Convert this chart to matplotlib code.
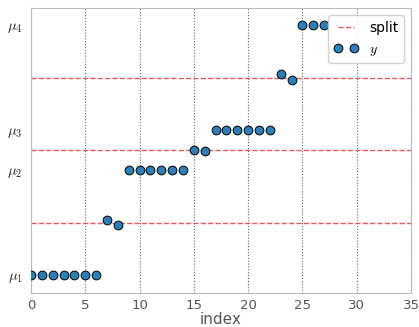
import numpy as np
import matplotlib
matplotlib.use('Agg')
import matplotlib.pyplot as plt

plt.rcParams['mathtext.fontset'] = 'cm'

# levels and the observed sequence
mu = [0.0, 2.1, 2.9, 5.0]
mu_labels = [r'$\mu_1$', r'$\mu_2$', r'$\mu_3$', r'$\mu_4$']
idx = list(range(28))
y = [0.0, 0.0, 0.0, 0.0, 0.0, 0.0, 0.0,
     1.10, 1.01,
     2.1, 2.1, 2.1, 2.1, 2.1, 2.1,
     2.51, 2.48,
     2.9, 2.9, 2.9, 2.9, 2.9, 2.9,
     4.02, 3.90,
     5.0, 5.0, 5.0]
splits = [(mu[i] + mu[i + 1]) / 2 for i in range(len(mu) - 1)]

fig = plt.figure(figsize=(4.19, 3.27), dpi=100)
ax = fig.add_axes([0.074, 0.103, 0.907, 0.872])

for i, s in enumerate(splits):
    ax.axhline(s, color='#e8393a', ls='--', lw=1.0, alpha=0.85,
               label='split' if i == 0 else None, zorder=2)

ax.plot(idx, y, 'o', color='#2b80b9', mec='black', mew=0.7, ms=6.3,
        label='$y$', zorder=3, clip_on=True)

ax.set_xlim(0, 35)
ax.set_ylim(-0.36, 5.34)
ax.set_xticks(range(0, 36, 5))
ax.set_yticks(mu)
ax.set_yticklabels(mu_labels)

ax.grid(axis='x', color='#666666', ls=(0, (1, 1.6)), lw=0.8)
ax.grid(axis='y', visible=False)
ax.tick_params(length=0, labelsize=9.5, colors='#555555', pad=4)
ax.tick_params(axis='y', labelcolor='#222222', labelsize=10.5, pad=6)
for sp in ax.spines.values():
    sp.set_color('#bbbbbb')

ax.set_xlabel('index', fontsize=11, color='#555555', labelpad=0)

ax.legend(loc='upper right', numpoints=2, fontsize=10, handlelength=1.75,
          handletextpad=0.8, framealpha=0.9, edgecolor='#cccccc')

fig.savefig('out.png', dpi=100)
